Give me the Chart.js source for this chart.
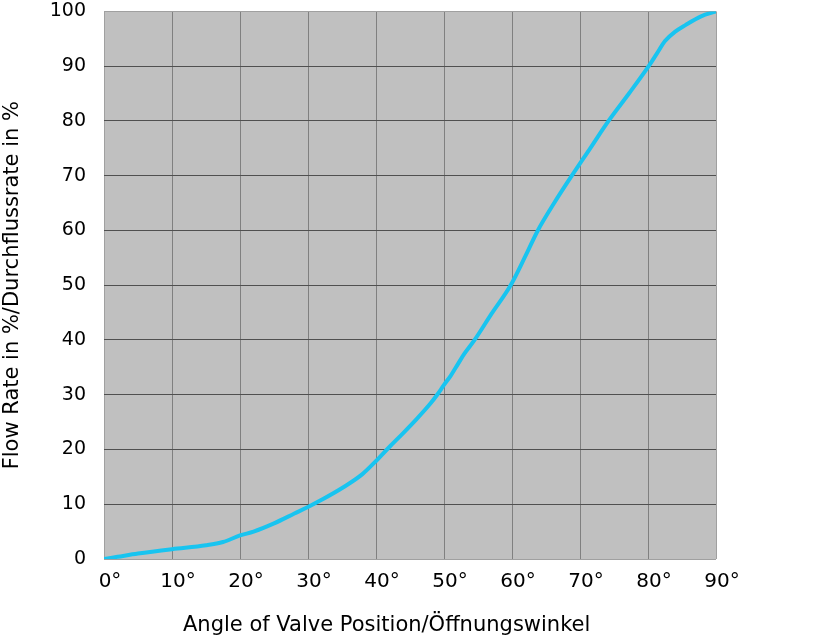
<!DOCTYPE html>
<html>
<head>
<meta charset="utf-8">
<script src="https://cdn.jsdelivr.net/npm/chart.js@4"></script>
<style>
  html, body { margin: 0; padding: 0; background: #fff; overflow: hidden; }
  #chart { display: block; margin-top: -18px; }
</style>
</head>
<body>
<canvas id="chart" width="819" height="656"></canvas>
<script>
// valve opening angle (degrees) and flow rate (%)
const angles = [0, 2, 5, 10, 15, 17.5, 20, 22, 25, 28, 30, 32, 35.2, 38, 40, 42, 44, 46, 48, 49, 50, 51, 52, 53, 54.5, 57, 59.8, 62, 63.8, 66.2, 68.8, 71.5, 74.2, 77.2, 80.1, 81.3, 82.5, 84, 85.5, 87.8, 90];
const flow = [0, 0.4, 1, 1.8, 2.5, 3.1, 4.3, 5, 6.5, 8.3, 9.5, 10.8, 13.1, 15.5, 17.9, 20.5, 23, 25.6, 28.4, 30, 31.8, 33.5, 35.5, 37.5, 40, 44.8, 50, 55.4, 60, 65, 70, 75, 80, 85, 90, 92.3, 94.6, 96.3, 97.5, 99.1, 100];
const xTicks = [0, 10, 20, 30, 40, 50, 60, 70, 80, 90];
const yTicks = [0, 10, 20, 30, 40, 50, 60, 70, 80, 90, 100];

const points = angles.map((a, i) => ({ x: a, y: flow[i] }));

const plotBackground = {
  id: 'plotBackground',
  beforeDraw(chart) {
    const { ctx, chartArea } = chart;
    ctx.save();
    ctx.fillStyle = '#c0c0c0';
    ctx.fillRect(chartArea.left, chartArea.top, chartArea.right - chartArea.left, chartArea.bottom - chartArea.top);
    ctx.restore();
  }
};

const tickFont = { family: 'DejaVu Sans', size: 19 };
const titleFont = { family: 'DejaVu Sans', size: 21 };

new Chart(document.getElementById('chart'), {
  type: 'line',
  data: {
    datasets: [{
      data: points,
      borderColor: '#18c4f0',
      borderWidth: 4,
      pointRadius: 0,
      cubicInterpolationMode: 'monotone',
      fill: false
    }]
  },
  options: {
    responsive: false,
    animation: false,
    layout: { padding: { left: 0, top: 0, right: 103, bottom: 0 } },
    plugins: { legend: { display: false }, tooltip: { enabled: false } },
    scales: {
      x: {
        type: 'linear',
        min: 0, max: 90,
        afterBuildTicks(scale) { scale.ticks = xTicks.map(v => ({ value: v })); },
        afterFit(scale) { scale.height = 79; },
        grid: {
          drawTicks: false,
          lineWidth: 1,
          color: ctx => (ctx.tick && (ctx.tick.value === 0 || ctx.tick.value === 90)) ? '#a0a0a0' : '#808080'
        },
        border: { display: false },
        ticks: {
          padding: 11,
          labelOffset: 6,
          maxRotation: 0,
          autoSkip: false,
          color: '#000',
          font: { family: 'DejaVu Sans', size: 20 },
          callback: v => v + '°'
        },
        title: {
          display: true,
          // trailing spaces nudge the title left, as in the original
          text: 'Angle of Valve Position/Öffnungswinkel\u00a0\u00a0\u00a0\u00a0\u00a0\u00a0\u00a0',
          color: '#000',
          font: titleFont,
          padding: { top: 0, bottom: 0 }
        }
      },
      y: {
        min: 0, max: 100,
        afterBuildTicks(scale) { scale.ticks = yTicks.map(v => ({ value: v })); },
        afterFit(scale) { scale.width = 104; },
        grid: {
          drawTicks: false,
          lineWidth: 1,
          color: ctx => (ctx.tick && (ctx.tick.value === 0 || ctx.tick.value === 100)) ? '#a0a0a0' : '#505050'
        },
        border: { display: false },
        ticks: {
          padding: 18,
          color: '#000',
          font: tickFont
        },
        title: {
          display: true,
          text: 'Flow Rate in %/Durchflussrate in %',
          color: '#000',
          font: titleFont,
          padding: { top: 0, bottom: 0 }
        }
      }
    }
  },
  plugins: [plotBackground]
});
</script>
</body>
</html>
